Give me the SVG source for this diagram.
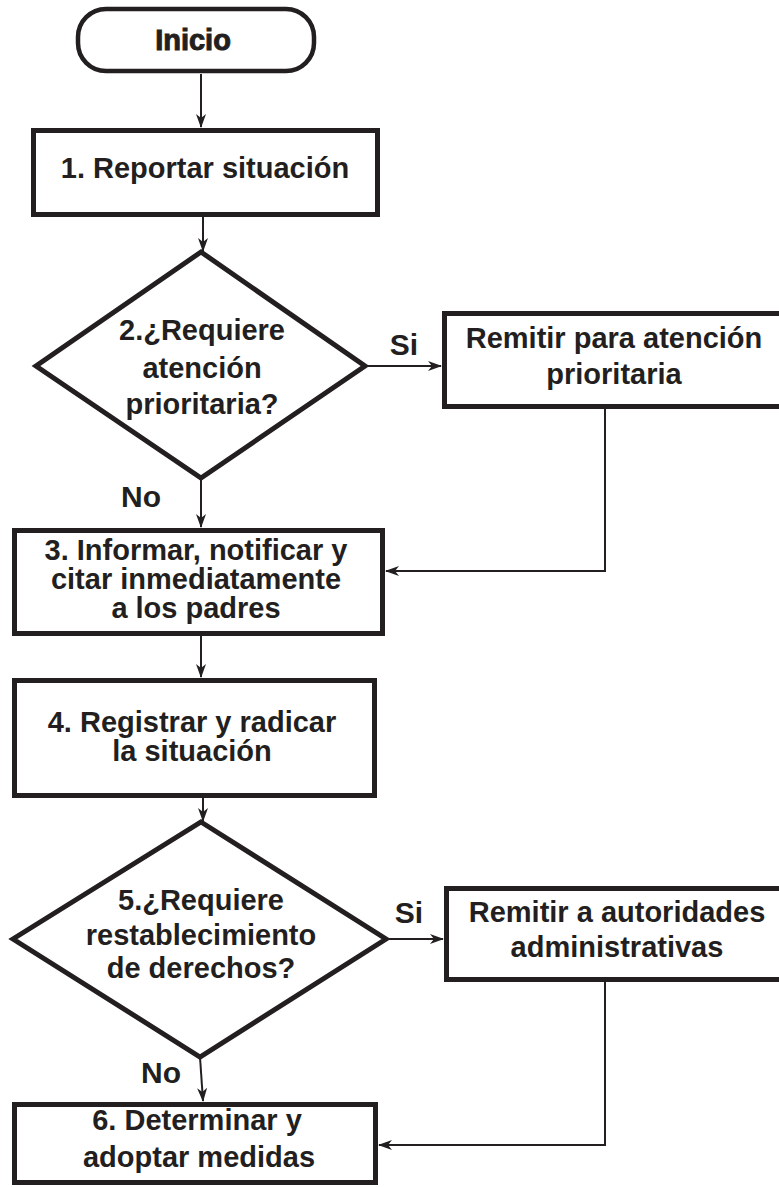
<svg xmlns="http://www.w3.org/2000/svg" width="779" height="1187" viewBox="0 0 779 1187">
<style>
.box{fill:#fff;stroke:#231f20;stroke-width:5}
.t{font-family:"Liberation Sans",Arial,sans-serif;font-weight:bold;font-size:29px;fill:#231f20;text-anchor:middle}
.lbl{font-family:"Liberation Sans",Arial,sans-serif;font-weight:bold;font-size:30px;fill:#231f20;text-anchor:middle}
.c{fill:none;stroke:#231f20;stroke-width:2}
</style>
<defs>
<marker id="ah" viewBox="0 0 14 10" refX="13" refY="5" markerWidth="14" markerHeight="10" markerUnits="userSpaceOnUse" orient="auto">
<path d="M0,0 L14,5 L0,10 L4,5 z" fill="#231f20"/>
</marker>
</defs>
<rect width="779" height="1187" fill="#fff"/>
<g id="connectors">
<path class="c" d="M201,74 V127" marker-end="url(#ah)"/>
<path class="c" d="M203,217 V251" marker-end="url(#ah)"/>
<path class="c" d="M365,366 H441" marker-end="url(#ah)"/>
<path class="c" d="M201,478 V527" marker-end="url(#ah)"/>
<path class="c" d="M605,409 V571 H386" marker-end="url(#ah)"/>
<path class="c" d="M201,636 V677" marker-end="url(#ah)"/>
<path class="c" d="M203,798 V821" marker-end="url(#ah)"/>
<path class="c" d="M386,939 H443" marker-end="url(#ah)"/>
<path class="c" d="M200,1057 L203,1101" marker-end="url(#ah)"/>
<path class="c" d="M605,982 V1145 H379" marker-end="url(#ah)"/>
<text class="lbl" x="404" y="355">Si</text>
<text class="lbl" x="141" y="507" font-size="31">No</text>
<text class="lbl" x="409" y="923">Si</text>
<text class="lbl" x="161" y="1083" font-size="31">No</text>
</g>
<g id="inicio">
<rect x="78" y="9" width="236" height="62" rx="28" fill="#fff" stroke="#231f20" stroke-width="4.5"/>
<text class="t" x="193" y="50" font-size="30" stroke="#231f20" stroke-width="1">Inicio</text>
</g>
<g id="n1">
<rect class="box" x="33.5" y="130.5" width="344" height="84"/>
<text class="t" x="205" y="178">1. Reportar situación</text>
</g>
<g id="n2">
<polygon class="box" points="201,252 365,366 201,478 36,366"/>
<text class="t" x="202" y="340">2.¿Requiere</text>
<text class="t" x="202" y="378">atención</text>
<text class="t" x="202" y="414">prioritaria?</text>
</g>
<g id="r1">
<rect class="box" x="444.5" y="313.5" width="340" height="93"/>
<text class="t" x="614" y="348">Remitir para atención</text>
<text class="t" x="614" y="384">prioritaria</text>
</g>
<g id="n3">
<rect class="box" x="14.5" y="530.5" width="368" height="103"/>
<text class="t" x="196" y="560">3. Informar, notificar y</text>
<text class="t" x="196" y="589">citar inmediatamente</text>
<text class="t" x="196" y="618">a los padres</text>
</g>
<g id="n4">
<rect class="box" x="14.5" y="680.5" width="360" height="115"/>
<text class="t" x="192" y="732">4. Registrar y radicar</text>
<text class="t" x="192" y="761">la situación</text>
</g>
<g id="n5">
<polygon class="box" points="201,822 386,939 200,1057 13,939"/>
<text class="t" x="201" y="910">5.¿Requiere</text>
<text class="t" x="201" y="945">restablecimiento</text>
<text class="t" x="201" y="978">de derechos?</text>
</g>
<g id="r2">
<rect class="box" x="446.5" y="888.5" width="340" height="91"/>
<text class="t" x="617" y="922">Remitir a autoridades</text>
<text class="t" x="617" y="957">administrativas</text>
</g>
<g id="n6">
<rect class="box" x="14.5" y="1104.5" width="361" height="78"/>
<text class="t" x="197" y="1130">6. Determinar y</text>
<text class="t" x="199" y="1167">adoptar medidas</text>
</g>
</svg>
